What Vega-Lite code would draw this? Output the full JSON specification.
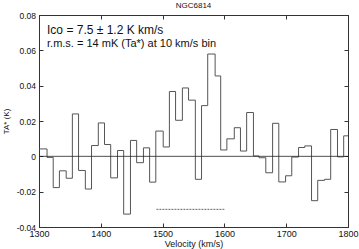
{
  "$schema": "https://vega.github.io/schema/vega-lite/v6.json",
  "autosize": {"type": "none"},
  "width": 309,
  "height": 212,
  "padding": {"left": 39, "top": 15, "right": 11, "bottom": 22},
  "background": "white",
  "config": {
    "view": {"stroke": "#333", "strokeWidth": 1},
    "font": "Liberation Sans",
    "axis": {"domainColor": "#333", "tickColor": "#333", "grid": false, "labelColor": "#111", "titleColor": "#111", "labelFont": "Liberation Sans", "titleFont": "Liberation Sans", "titleFontWeight": "normal"}
  },
  "title": {"text": "NGC6814", "fontSize": 8, "fontWeight": "normal", "font": "Liberation Sans", "color": "#111", "offset": 1},
  "datasets": {
    "spec": [
      {"v": 1300, "t": 0.0042}, {"v": 1313, "t": -0.0006}, {"v": 1323, "t": -0.0177}, {"v": 1333, "t": -0.0082},
      {"v": 1344, "t": -0.0124}, {"v": 1354, "t": 0.024}, {"v": 1364, "t": -0.008}, {"v": 1375, "t": -0.0185},
      {"v": 1385, "t": 0.0061}, {"v": 1396, "t": 0.0189}, {"v": 1406, "t": 0.0067}, {"v": 1416, "t": -0.0122},
      {"v": 1427, "t": 0.0033}, {"v": 1437, "t": -0.0327}, {"v": 1448, "t": 0.009}, {"v": 1458, "t": -0.0036},
      {"v": 1469, "t": 0.0048}, {"v": 1479, "t": -0.0146}, {"v": 1489, "t": 0.0143}, {"v": 1501, "t": 0.0053},
      {"v": 1511, "t": 0.0367}, {"v": 1521, "t": 0.0204}, {"v": 1532, "t": 0.0387}, {"v": 1542, "t": 0.0318},
      {"v": 1553, "t": -0.013}, {"v": 1563, "t": 0.0287}, {"v": 1573, "t": 0.0579}, {"v": 1585, "t": 0.0455},
      {"v": 1594, "t": 0.0036}, {"v": 1604, "t": 0.0099}, {"v": 1616, "t": 0.0162}, {"v": 1626, "t": 0.003},
      {"v": 1636, "t": 0.0248}, {"v": 1647, "t": 0.0002}, {"v": 1656, "t": -0.0008}, {"v": 1667, "t": -0.0093},
      {"v": 1678, "t": 0.0187}, {"v": 1688, "t": -0.0145}, {"v": 1699, "t": -0.011}, {"v": 1709, "t": -0.0004},
      {"v": 1720, "t": 0.005}, {"v": 1730, "t": 0.0059}, {"v": 1741, "t": -0.0251}, {"v": 1751, "t": -0.0136},
      {"v": 1762, "t": -0.013}, {"v": 1772, "t": 0.0152}, {"v": 1783, "t": -0.0003}, {"v": 1793, "t": 0.0116},
      {"v": 1800, "t": 0.0116}
    ],
    "notes": [
      {"v": 1313, "t": 0.069, "label": "Ico = 7.5 ± 1.2 K km/s", "size": 12},
      {"v": 1313, "t": 0.062, "label": "r.m.s. = 14 mK (Ta*) at 10 km/s bin", "size": 11}
    ],
    "band": [{"v": 1490, "v2": 1600, "t": -0.03}],
    "zero": [{"t": 0}]
  },
  "layer": [
    {
      "data": {"name": "spec"},
      "mark": {"type": "line", "interpolate": "step-after", "color": "#555", "strokeWidth": 1, "clip": true},
      "encoding": {
        "x": {"field": "v", "type": "quantitative", "scale": {"domain": [1300, 1800], "nice": false, "zero": false},
          "axis": {"orient": "bottom", "values": [1300, 1400, 1500, 1600, 1700, 1800], "format": "d", "title": "Velocity (km/s)", "labelFontSize": 9, "titleFontSize": 9, "tickSize": -4, "labelPadding": 6, "titlePadding": 1, "labelFlush": false}},
        "y": {"field": "t", "type": "quantitative", "scale": {"domain": [-0.04, 0.08], "nice": false, "zero": false},
          "axis": {"orient": "left", "values": [-0.04, -0.02, 0, 0.02, 0.04, 0.06, 0.08], "title": "TA* (K)", "labelFontSize": 8.5, "titleFontSize": 8, "tickSize": -4, "labelPadding": 7.5, "titlePadding": 6, "labelFlush": false,
            "labelExpr": "datum.value == 0 ? '0' : (datum.value < 0 ? '-' + format(-datum.value, '.2f') : format(datum.value, '.2f'))"}}
      }
    },
    {
      "data": {"name": "zero"},
      "mark": {"type": "rule", "color": "#222", "strokeWidth": 0.8},
      "encoding": {
        "y": {"field": "t", "type": "quantitative", "scale": {"domain": [-0.04, 0.08], "nice": false, "zero": false},
          "axis": {"orient": "right", "values": [-0.04, -0.02, 0, 0.02, 0.04, 0.06, 0.08], "labels": false, "title": null, "tickSize": -4}}
      }
    },
    {
      "data": {"name": "band"},
      "mark": {"type": "rule", "color": "#666", "strokeWidth": 1, "strokeDash": [2, 1]},
      "encoding": {
        "x": {"field": "v", "type": "quantitative", "scale": {"domain": [1300, 1800], "nice": false, "zero": false},
          "axis": {"orient": "top", "values": [1300, 1400, 1500, 1600, 1700, 1800], "labels": false, "title": null, "tickSize": -4}},
        "x2": {"field": "v2"},
        "y": {"field": "t", "type": "quantitative", "axis": null}
      }
    },
    {
      "data": {"name": "notes"},
      "mark": {"type": "text", "align": "left", "baseline": "alphabetic", "color": "#111", "font": "Liberation Sans"},
      "encoding": {
        "x": {"field": "v", "type": "quantitative", "axis": null},
        "y": {"field": "t", "type": "quantitative", "axis": null},
        "text": {"field": "label"},
        "size": {"field": "size", "type": "quantitative", "scale": null, "legend": null}
      }
    }
  ],
  "resolve": {"axis": {"x": "independent", "y": "independent"}}
}
